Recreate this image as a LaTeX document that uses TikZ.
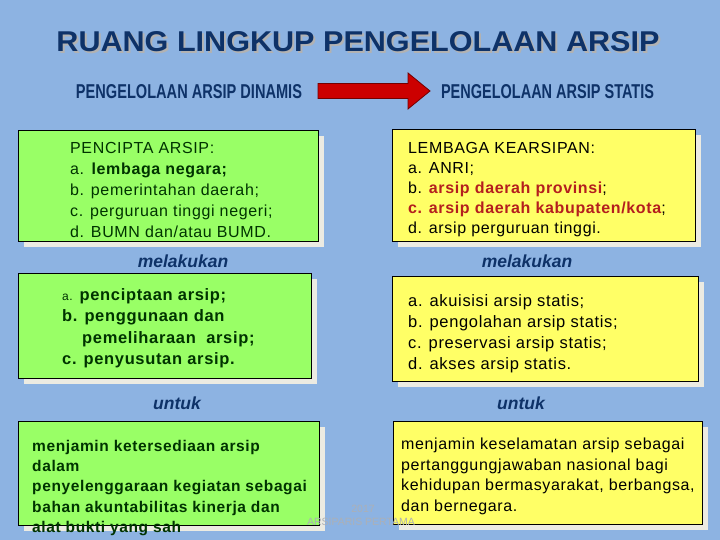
\documentclass[tikz,border=0pt]{standalone}
\usepackage{fontspec}
\setmainfont{Liberation Sans}
\newfontfamily\boxfont[LetterSpace=4]{Liberation Sans}
\newfontfamily\wmfont{Liberation Sans}
\usepackage{xcolor}
\usetikzlibrary{shadows}
\definecolor{bgblue}{RGB}{141,179,226}
\definecolor{navy}{RGB}{14,50,104}
\definecolor{boxgreen}{RGB}{153,255,102}
\definecolor{boxyellow}{RGB}{255,255,102}
\definecolor{shade}{RGB}{236,235,226}
\definecolor{txtgreen}{RGB}{0,51,0}
\definecolor{txtred}{RGB}{180,30,30}
\definecolor{arrowred}{RGB}{204,0,0}
\definecolor{wmgray}{RGB}{172,176,182}

\begin{document}
\begin{tikzpicture}[x=1pt,y=-1pt,
  box/.style={draw=black,line width=0.9pt,anchor=north west,inner sep=0pt,
    general shadow={fill=shade,shadow xshift=6pt,shadow yshift=-6pt}},
  txt/.style={anchor=north west,inner sep=0pt,align=left,font=\boxfont\fontsize{16}{21}\selectfont},
  kata/.style={inner sep=0pt,text=navy,font=\fontsize{17.5}{20}\selectfont\bfseries\itshape},
  arrowline/.style={fill=arrowred,draw=black!55!red,line width=0.8pt},
  wm/.style={inner sep=0pt,text=wmgray,font=\wmfont\fontsize{10.5}{12}\selectfont}]
\fill[bgblue] (0,0) rectangle (720,540);
\useasboundingbox (0,0) rectangle (720,540);

\node[inner sep=0pt,text=gray!60] at (360,44) {\resizebox{603pt}{20pt}{\bfseries RUANG LINGKUP PENGELOLAAN ARSIP}};
\node[inner sep=0pt,text=navy] (judul) at (358,42) {\resizebox{603pt}{20pt}{\bfseries RUANG LINGKUP PENGELOLAAN ARSIP}};

\node[inner sep=0pt,text=navy] (dinamis) at (189,92) {\resizebox{226pt}{14pt}{\bfseries PENGELOLAAN ARSIP DINAMIS}};
\node[inner sep=0pt,text=navy] (statis) at (547.5,92) {\resizebox{213pt}{14pt}{\bfseries PENGELOLAAN ARSIP STATIS}};
\coordinate (ekor) at (318,91);
\draw[arrowline] (ekor) ++(0,-7.5) -- ++(90,0) -- ++(0,-10.5) -- ++(22,18) -- ++(-22,18) -- ++(0,-10.5) -- ++(-90,0) -- cycle;

\node[box,fill=boxgreen,minimum width=300pt,minimum height=111pt] (pencipta) at (18,130) {};
\node[txt,text=txtgreen] (penciptatxt) at (70,142) {PENCIPTA ARSIP:\\a. \textbf{lembaga negara;}\\b. pemerintahan daerah;\\c. perguruan tinggi negeri;\\d. BUMN dan/atau BUMD.};

\node[box,fill=boxyellow,minimum width=303pt,minimum height=112pt] (lembaga) at (392,129) {};
\node[txt,font=\boxfont\fontsize{16}{20}\selectfont] (lembagatxt) at (408,142) {LEMBAGA KEARSIPAN:\\a. ANRI;\\b. \textcolor{txtred}{\bfseries arsip daerah provinsi};\\\textcolor{txtred}{\bfseries c. arsip daerah kabupaten/kota};\\d. arsip perguruan tinggi.};

\node[kata] (lakukiri) at (183,261) {melakukan};
\node[kata] (lakukanan) at (527,261) {melakukan};

\node[box,fill=boxgreen,minimum width=293pt,minimum height=105pt] (kegiatan) at (18,273) {};
\node[txt,text=txtgreen,font=\boxfont\fontsize{16.5}{21.5}\selectfont\bfseries] (kegiatantxt) at (62,288) {{\mdseries\fontsize{12}{21.5}\selectfont a.} penciptaan arsip;\\b. penggunaan dan\\\hspace*{20pt}pemeliharaan\ \ arsip;\\c. penyusutan arsip.};

\node[box,fill=boxyellow,minimum width=306pt,minimum height=105pt] (statistugas) at (392,276) {};
\node[txt,font=\boxfont\fontsize{16.5}{21.2}\selectfont] (statistugastxt) at (408,294) {a. akuisisi arsip statis;\\b. pengolahan arsip statis;\\c. preservasi arsip statis;\\d. akses arsip statis.};

\node[kata] (untukkiri) at (177,403) {untuk};
\node[kata] (untukkanan) at (521,403) {untuk};

\node[box,fill=boxgreen,minimum width=301pt,minimum height=104pt] (tujuandinamis) at (18,421) {};
\node[txt,text=txtgreen,font=\boxfont\fontsize{15.5}{20.2}\selectfont\bfseries] (tujuandinamistxt) at (32,440) {menjamin ketersediaan arsip\\dalam\\penyelenggaraan kegiatan sebagai\\bahan akuntabilitas kinerja dan\\alat bukti yang sah};

\node[box,fill=boxyellow,minimum width=309pt,minimum height=103pt] (tujuanstatis) at (393,421) {};
\node[txt,font=\boxfont\fontsize{16}{20.5}\selectfont] (tujuanstatistxt) at (401,438) {menjamin keselamatan arsip sebagai\\pertanggungjawaban nasional bagi\\kehidupan bermasyarakat, berbangsa,\\dan bernegara.};

\node[wm] (tahun) at (363,509) {2017};
\node[wm] (arsiparis) at (361,522) {ARSIPARIS PERTAMA};
\end{tikzpicture}
\end{document}
